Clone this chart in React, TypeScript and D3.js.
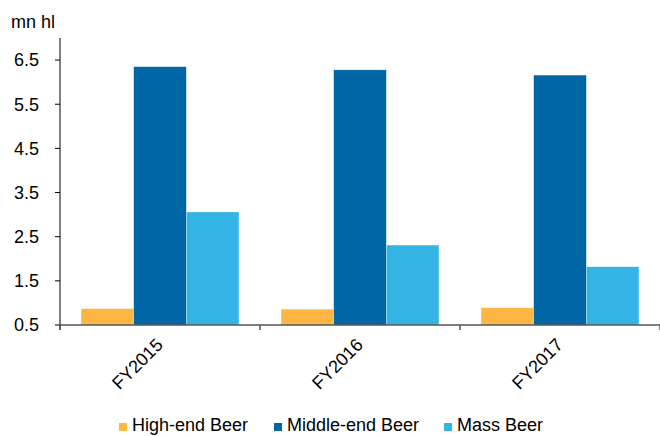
import React from "react";
import * as d3 from "d3";

const years = ["FY2015", "FY2016", "FY2017"];
const seriesNames = ["High-end Beer", "Middle-end Beer", "Mass Beer"];
const highEnd = [0.87, 0.86, 0.89];
const middleEnd = [6.35, 6.28, 6.16];
const massBeer = [3.06, 2.31, 1.82];
const yTicks = [0.5, 1.5, 2.5, 3.5, 4.5, 5.5, 6.5];
const colors = ["#FDB643", "#0066A6", "#34B4E5"];

const W = 660;
const H = 436;
const FONT = "'Liberation Sans', Arial, sans-serif";
const FS = 18;

export default function App() {
  const values = [highEnd, middleEnd, massBeer];
  const x = d3.scaleBand<string>().domain(years).range([60, 660]).padding(0);
  const inner = d3
    .scaleBand<string>()
    .domain(seriesNames)
    .range([0, x.bandwidth()])
    .paddingInner(0)
    .paddingOuter(0.4);
  const y = d3.scaleLinear().domain([0.5, 7.0]).range([325, 38]);

  const legendX = [119, 274, 444];

  return (
    <svg
      width={W}
      height={H}
      style={{ position: "absolute", left: 0, top: 0, background: "#fff" }}
      fontFamily={FONT}
    >
      <text x={11} y={28} fontSize={FS} fill="#000">
        mn hl
      </text>

      {/* bars */}
      {years.map((yr, i) => (
        <g key={yr} transform={`translate(${x(yr)},0)`}>
          {seriesNames.map((s, j) => (
            <rect
              key={s}
              x={inner(s)}
              y={y(values[j][i])}
              width={inner.bandwidth()}
              height={y(0.5) - y(values[j][i])}
              fill={colors[j]}
              stroke="#ffffff"
              strokeOpacity={0.5}
              strokeWidth={0.6}
            />
          ))}
        </g>
      ))}

      {/* y axis */}
      <line x1={60} x2={60} y1={y(7.0)} y2={y(0.5) + 5} stroke="#000" strokeWidth={1} />
      {yTicks.map((t) => (
        <g key={t}>
          <line x1={55} x2={60} y1={y(t)} y2={y(t)} stroke="#000" strokeWidth={1} />
          <text
            x={39}
            y={y(t)}
            dy="0.35em"
            textAnchor="end"
            fontSize={FS}
            fill="#000"
          >
            {t.toFixed(1)}
          </text>
        </g>
      ))}

      {/* x axis */}
      <line x1={60} x2={660} y1={y(0.5)} y2={y(0.5)} stroke="#555" strokeWidth={1.5} />
      {[...years.map((yr) => x(yr) as number), 660].map((px, i) => (
        <line
          key={i}
          x1={px}
          x2={px}
          y1={y(0.5)}
          y2={y(0.5) + 5}
          stroke="#555"
          strokeWidth={1.5}
        />
      ))}
      {years.map((yr) => {
        const cx = (x(yr) as number) + x.bandwidth() / 2;
        return (
          <text
            key={yr}
            transform={`translate(${cx + 4},346) rotate(-45)`}
            textAnchor="end"
            fontSize={FS}
            fill="#000"
          >
            {yr}
          </text>
        );
      })}

      {/* legend */}
      {seriesNames.map((s, j) => (
        <g key={s}>
          <rect x={legendX[j]} y={423} width={8} height={8} fill={colors[j]} />
          <text x={legendX[j] + 13} y={431} fontSize={FS} fill="#000">
            {s}
          </text>
        </g>
      ))}
    </svg>
  );
}
